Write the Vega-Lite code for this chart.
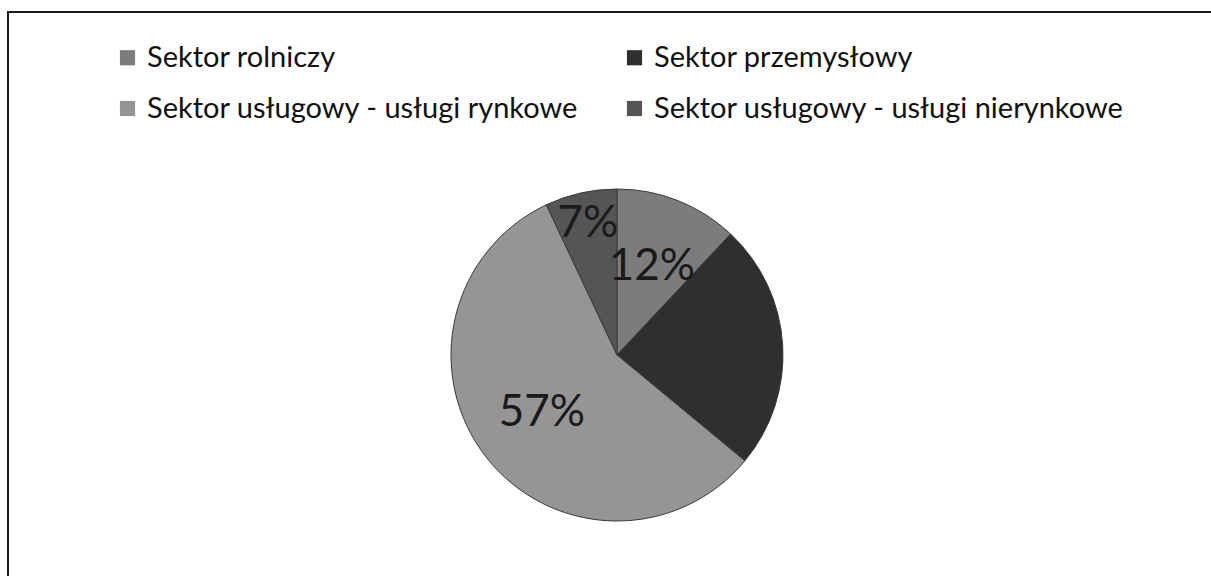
{
  "$schema": "https://vega.github.io/schema/vega-lite/v6.json",
  "width": 1218,
  "height": 686,
  "autosize": "none",
  "padding": {"left": 8, "top": 12, "right": 0, "bottom": 0},
  "background": "#ffffff",
  "view": {"stroke": "#1a1a1a", "strokeWidth": 2},
  "data": {
    "values": [
      {"sector": "Sektor rolniczy", "share": 0.12, "n": 1},
      {"sector": "Sektor przemysłowy", "share": 0.24, "n": 2},
      {"sector": "Sektor usługowy - usługi rynkowe", "share": 0.57, "n": 3},
      {"sector": "Sektor usługowy - usługi nierynkowe", "share": 0.07, "n": 4}
    ]
  },
  "encoding": {
    "theta": {"field": "share", "type": "quantitative", "stack": true},
    "order": {"field": "n", "type": "quantitative"}
  },
  "layer": [
    {
      "mark": {"type": "arc", "outerRadius": 166, "stroke": "#3a3a3a", "strokeWidth": 1},
      "encoding": {
        "color": {
          "field": "sector",
          "type": "nominal",
          "scale": {
            "domain": ["Sektor rolniczy", "Sektor przemysłowy", "Sektor usługowy - usługi rynkowe", "Sektor usługowy - usługi nierynkowe"],
            "range": ["#7c7c7c", "#2f2f2f", "#959595", "#555555"]
          },
          "legend": {
            "title": null,
            "orient": "none",
            "legendX": 105,
            "legendY": 31,
            "direction": "horizontal",
            "columns": 2,
            "columnPadding": 41,
            "rowPadding": 21,
            "symbolType": "square",
            "symbolSize": 230,
            "symbolStrokeWidth": 0,
            "labelFont": "Lato",
            "labelFontSize": 29,
            "labelColor": "#111111",
            "labelLimit": 800,
            "labelOffset": 5
          }
        }
      }
    },
    {
      "mark": {"type": "text", "radius": 95, "font": "Lato", "fontSize": 44, "color": "#1a1a1a"},
      "encoding": {
        "text": {"field": "share", "type": "quantitative", "format": ".0%"},
        "opacity": {"condition": {"test": "datum.n === 1 || datum.n === 3", "value": 1}, "value": 0}
      }
    },
    {
      "mark": {"type": "text", "radius": 134, "font": "Lato", "fontSize": 44, "color": "#1a1a1a"},
      "encoding": {
        "text": {"field": "share", "type": "quantitative", "format": ".0%"},
        "opacity": {"condition": {"test": "datum.n === 4", "value": 1}, "value": 0}
      }
    }
  ]
}
